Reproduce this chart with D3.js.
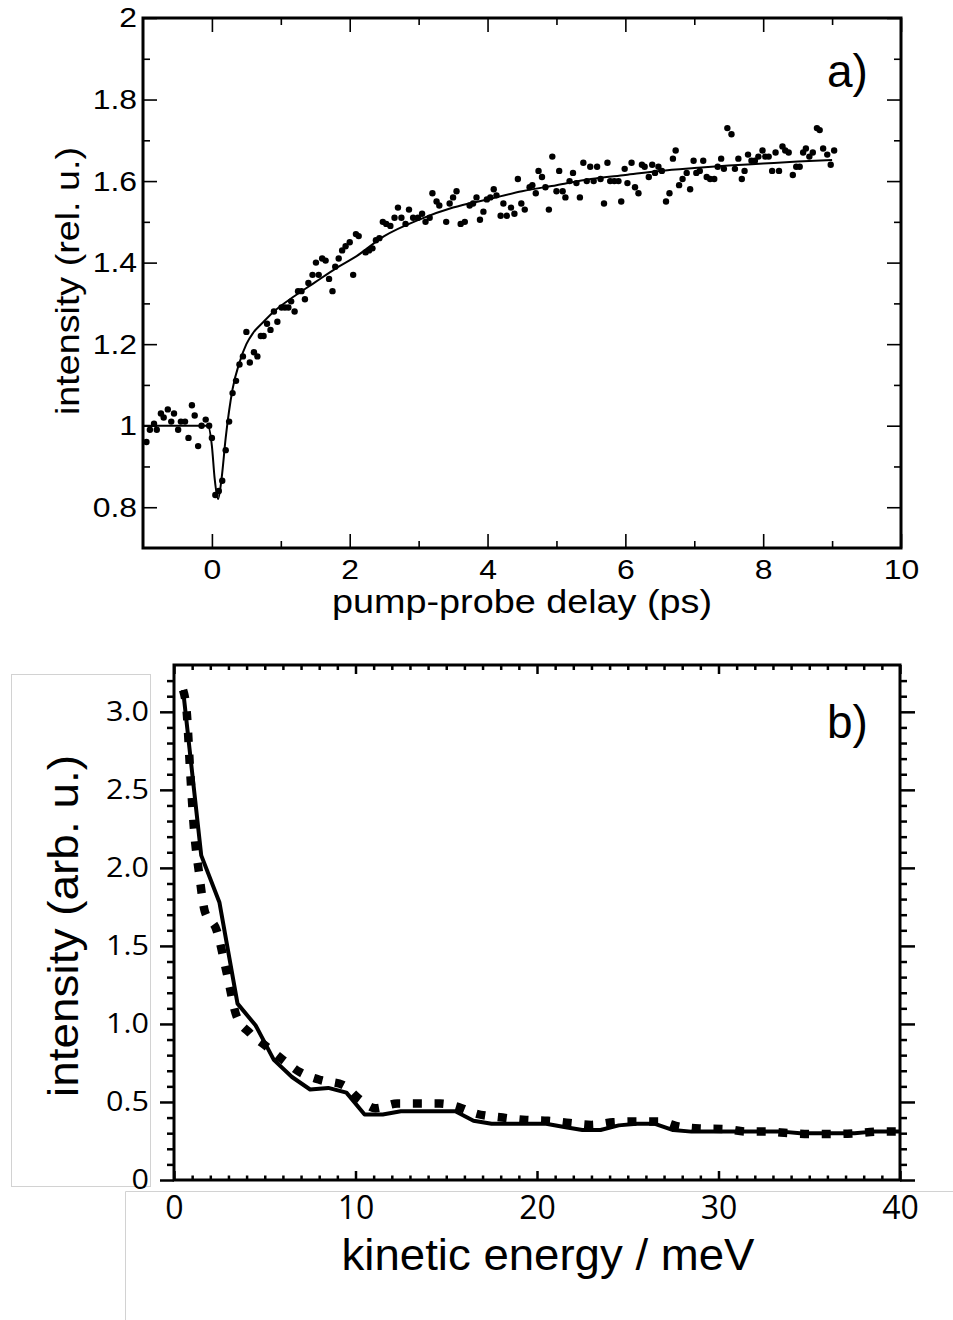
<!doctype html>
<html>
<head>
<meta charset="utf-8">
<script src="https://cdn.jsdelivr.net/npm/d3@7/dist/d3.min.js"></script>
<style>
  body { margin: 0; background: #fff; }
  svg { display: block; }
  .helv { font-family: "Liberation Sans", Arial, Helvetica, sans-serif; }
  .open { font-family: "Open Sans", "Noto Sans", sans-serif; }
</style>
</head>
<body>
<div id="chart"></div>
<script>
// ---- panel a) : pump-probe delay scan ----
var delay = [-0.95,-0.9,-0.84,-0.8,-0.74,-0.7,-0.64,-0.59,-0.55,-0.49,-0.45,-0.39,-0.34,-0.29,-0.25,-0.2,-0.15,-0.09,-0.04,0.0,
  0.05,0.1,0.15,0.2,0.25,0.3,0.35,0.4,0.45,0.5,0.55,0.61,0.66,0.71,0.75,0.8,0.85,0.9,0.95,1.01,
  1.06,1.11,1.15,1.2,1.25,1.3,1.35,1.4,1.46,1.51,1.55,1.6,1.65,1.7,1.75,1.79,1.84,1.89,1.94,2.0,
  2.05,2.09,2.13,2.23,2.28,2.33,2.38,2.43,2.48,2.53,2.59,2.65,2.7,2.75,2.81,2.86,2.92,2.99,3.05,3.1,
  3.16,3.2,3.26,3.3,3.4,3.45,3.5,3.55,3.61,3.67,3.74,3.79,3.84,3.89,3.94,3.99,4.04,4.09,4.13,4.19,
  4.23,4.28,4.34,4.39,4.44,4.49,4.54,4.61,4.65,4.7,4.74,4.79,4.84,4.89,4.94,5.0,5.04,5.09,5.13,5.19,
  5.24,5.29,5.34,5.39,5.44,5.49,5.54,5.59,5.64,5.69,5.74,5.78,5.84,5.9,5.94,5.99,6.03,6.09,6.14,6.19,
  6.24,6.28,6.34,6.39,6.43,6.48,6.53,6.59,6.64,6.69,6.73,6.78,6.83,6.89,6.94,6.99,7.03,7.08,7.13,7.18,
  7.23,7.29,7.34,7.39,7.43,7.48,7.54,7.59,7.64,7.69,7.73,7.78,7.83,7.88,7.93,7.99,8.03,8.08,8.13,8.18,
  8.23,8.28,8.32,8.37,8.43,8.48,8.53,8.58,8.62,8.67,8.72,8.78,8.82,8.87,8.93,8.98,9.03];
var intensityA = [0.96,0.99,1.005,0.99,1.03,1.02,1.04,1.01,1.03,0.99,1.01,1.01,0.97,1.05,1.025,0.95,1.0,1.015,1.0,0.97,
  0.83,0.84,0.865,0.94,1.01,1.08,1.11,1.15,1.17,1.23,1.155,1.18,1.17,1.22,1.22,1.25,1.235,1.28,1.255,1.29,
  1.29,1.29,1.305,1.28,1.33,1.33,1.31,1.35,1.37,1.40,1.37,1.41,1.405,1.36,1.33,1.39,1.41,1.43,1.44,1.45,
  1.37,1.47,1.465,1.425,1.43,1.435,1.455,1.46,1.50,1.495,1.49,1.51,1.535,1.51,1.495,1.53,1.51,1.51,1.52,1.50,
  1.51,1.57,1.55,1.54,1.50,1.545,1.56,1.575,1.495,1.50,1.54,1.545,1.56,1.505,1.525,1.555,1.56,1.58,1.565,1.515,
  1.545,1.515,1.535,1.52,1.605,1.545,1.53,1.585,1.59,1.57,1.625,1.61,1.585,1.53,1.66,1.575,1.625,1.575,1.56,1.60,
  1.62,1.595,1.56,1.645,1.60,1.635,1.60,1.635,1.605,1.545,1.645,1.60,1.60,1.60,1.55,1.63,1.595,1.645,1.585,1.57,
  1.64,1.635,1.61,1.64,1.62,1.635,1.625,1.55,1.57,1.655,1.675,1.59,1.605,1.62,1.58,1.65,1.62,1.625,1.65,1.61,
  1.605,1.605,1.635,1.655,1.63,1.73,1.715,1.63,1.655,1.605,1.625,1.665,1.65,1.65,1.66,1.675,1.66,1.66,1.625,1.67,
  1.625,1.685,1.675,1.67,1.615,1.635,1.635,1.67,1.68,1.66,1.67,1.73,1.725,1.68,1.665,1.64,1.675];

// fitted curve
var fitDelay = [-1,-0.06,0.0,0.04,0.09,0.14,0.2,0.3,0.4,0.5,0.6,0.75,0.9,1.2,1.5,1.8,2.1,2.5,3.0,3.5,4.0,4.5,5.0,5.5,6.0,6.5,7.0,7.5,8.0,8.5,9.0];
var fitValue = [1.0,1.0,0.95,0.87,0.82,0.87,0.97,1.09,1.155,1.20,1.228,1.255,1.28,1.318,1.352,1.386,1.416,1.465,1.505,1.535,1.555,1.575,1.59,1.605,1.615,1.625,1.632,1.638,1.643,1.648,1.652];

var aXMajor = [0, 2, 4, 6, 8, 10];
var aXMinor = [1, 3, 5, 7, 9];
var aYMajor = [0.8, 1, 1.2, 1.4, 1.6, 1.8, 2];
var aYMinor = [0.9, 1.1, 1.3, 1.5, 1.7, 1.9];

// ---- panel b) : kinetic energy distributions ----
var energy = [0.5,1.5,2.5,3.5,4.5,5.5,6.5,7.5,8.5,9.5,10.5,11.5,12.5,13.5,14.5,15.5,16.5,17.5,18.5,19.5,
  20.5,21.5,22.5,23.5,24.5,25.5,26.5,27.5,28.5,29.5,30.5,31.5,32.5,33.5,34.5,35.5,36.5,37.5,38.5,39.5,40];
var solidB = [3.14,2.08,1.78,1.13,0.99,0.77,0.66,0.58,0.59,0.56,0.42,0.42,0.44,0.44,0.44,0.44,0.38,0.36,0.36,0.36,
  0.36,0.34,0.32,0.32,0.35,0.36,0.36,0.32,0.31,0.31,0.31,0.31,0.31,0.31,0.30,0.30,0.30,0.30,0.31,0.31,0.31];
var dottedEnergy = [0.5,0.7,0.9,1.1,1.4,1.7,2.35,2.9,3.45,4.2,5.1,6.0,6.95,8.1,9.3,10.15,11.1,12.3,13.5,14.65,15.85,16.5,
  18.1,19.4,20.6,21.8,23.0,24.2,25.5,26.7,27.9,29.1,30.3,31.6,32.7,33.9,35.1,36.4,37.6,38.8,40];
var dottedB = [3.14,3.0,2.6,2.25,1.95,1.72,1.60,1.33,1.05,0.94,0.855,0.77,0.69,0.64,0.61,0.525,0.46,0.49,0.49,0.49,0.46,0.43,
  0.40,0.385,0.38,0.365,0.353,0.37,0.375,0.375,0.34,0.33,0.327,0.31,0.31,0.30,0.295,0.295,0.30,0.31,0.31];

var bXMajor = [0, 10, 20, 30, 40];
var bXMinor = d3.range(1, 40).filter(function(v){ return v % 10 !== 0; });
var bYMajor = [0, 0.5, 1.0, 1.5, 2.0, 2.5, 3.0];
var bYLabels = ["0", "0.5", "1.0", "1.5", "2.0", "2.5", "3.0"];
var bYMinor = d3.range(1, 33).map(function(v){ return v / 10; }).filter(function(v){ return Math.round(v * 10) % 5 !== 0; });

var W = 953, H = 1320;
var svg = d3.select("#chart").append("svg").attr("width", W).attr("height", H);

// light grey borders of pasted label boxes
var grey = svg.append("g").attr("stroke", "#d2d2d2").attr("stroke-width", 1).attr("fill", "none");
grey.append("rect").attr("x", 11.5).attr("y", 674.5).attr("width", 139).attr("height", 512);
grey.append("path").attr("d", "M125.5,1320 V1191.5 H953");

// strip domain, set tick width and label font; labels are a bit wide in the original
function styleAxis(g, size, width, cls, stretch) {
  g.select(".domain").remove();
  g.selectAll("line").attr("stroke-width", width);
  g.attr("font-size", null).attr("font-family", null);
  g.selectAll("text").attr("class", cls).attr("font-size", size)
    .each(function() {
      var w = this.getComputedTextLength();
      if (w > 0) d3.select(this).attr("textLength", w * stretch).attr("lengthAdjust", "spacingAndGlyphs");
    });
}

// ================= panel a =================
var a = { left: 143, right: 901, top: 18, bottom: 548 };
var xa = d3.scaleLinear().domain([-1, 10]).range([a.left, a.right]);
var ya = d3.scaleLinear().domain([0.7, 2.0]).range([a.bottom, a.top]);
var ga = svg.append("g");

// ticks (inward on all four sides)
function ticksA(axis, tr, vals, size, pad, withLabels) {
  var g = ga.append("g").attr("transform", tr)
    .call(axis.tickValues(vals).tickSize(size).tickPadding(pad)
      .tickFormat(withLabels ? d3.format("~g") : ""));
  styleAxis(g, 28, 1.6, "helv", 1.14);
  return g;
}
ticksA(d3.axisBottom(xa), "translate(0," + a.bottom + ")", aXMajor, -14, 11, true);
ticksA(d3.axisBottom(xa), "translate(0," + a.bottom + ")", aXMinor, -7, 0, false);
ticksA(d3.axisTop(xa), "translate(0," + a.top + ")", aXMajor, -14, 0, false);
ticksA(d3.axisTop(xa), "translate(0," + a.top + ")", aXMinor, -7, 0, false);
ticksA(d3.axisLeft(ya), "translate(" + a.left + ",0)", aYMajor, -14, 6, true);
ticksA(d3.axisLeft(ya), "translate(" + a.left + ",0)", aYMinor, -7, 0, false);
ticksA(d3.axisRight(ya), "translate(" + a.right + ",0)", aYMajor, -14, 0, false);
ticksA(d3.axisRight(ya), "translate(" + a.right + ",0)", aYMinor, -7, 0, false);

ga.append("rect").attr("x", a.left).attr("y", a.top)
  .attr("width", a.right - a.left).attr("height", a.bottom - a.top)
  .attr("fill", "none").attr("stroke", "#000").attr("stroke-width", 3);

var fitLine = d3.line().x(function(d){ return xa(d[0]); }).y(function(d){ return ya(d[1]); }).curve(d3.curveMonotoneX);
ga.append("path").datum(d3.zip(fitDelay, fitValue)).attr("d", fitLine)
  .attr("fill", "none").attr("stroke", "#000").attr("stroke-width", 2);

ga.selectAll("circle.pt").data(d3.zip(delay, intensityA)).enter().append("circle")
  .attr("class", "pt").attr("cx", function(d){ return xa(d[0]); }).attr("cy", function(d){ return ya(d[1]); })
  .attr("r", 3.2).attr("fill", "#000");

ga.append("text").attr("class", "helv").attr("x", (a.left + a.right) / 2).attr("y", 613)
  .attr("text-anchor", "middle").attr("font-size", 34).attr("textLength", 380).attr("lengthAdjust", "spacingAndGlyphs")
  .text("pump-probe delay (ps)");
ga.append("text").attr("class", "helv").attr("transform", "translate(79," + 281 + ") rotate(-90)")
  .attr("text-anchor", "middle").attr("font-size", 34).attr("textLength", 268).attr("lengthAdjust", "spacingAndGlyphs")
  .text("intensity (rel. u.)");
ga.append("text").attr("class", "helv").attr("x", 827).attr("y", 87).attr("font-size", 46).text("a)");

// ================= panel b =================
var b = { left: 174, right: 900, top: 665, bottom: 1180 };
var xb = d3.scaleLinear().domain([0, 40]).range([b.left, b.right]);
var yb = d3.scaleLinear().domain([0, 3.3]).range([b.bottom, b.top]);
var gb = svg.append("g");

function ticksB(axis, tr, vals, size, pad, fmt, fs, stretch) {
  var g = gb.append("g").attr("transform", tr)
    .call(axis.tickValues(vals).tickSize(size).tickPadding(pad).tickFormat(fmt));
  styleAxis(g, fs, 2.5, "open", stretch);
  return g;
}
ticksB(d3.axisLeft(yb), "translate(" + b.left + ",0)", bYMajor, 14, 11, function(d, i){ return bYLabels[i]; }, 27, 1.13);
ticksB(d3.axisLeft(yb), "translate(" + b.left + ",0)", bYMinor, 7, 0, "", 27, 1);
ticksB(d3.axisRight(yb), "translate(" + b.right + ",0)", bYMajor, 15, 0, "", 27, 1);
ticksB(d3.axisRight(yb), "translate(" + b.right + ",0)", bYMinor, 7, 0, "", 27, 1);
ticksB(d3.axisBottom(xb), "translate(0," + b.bottom + ")", bXMajor, -9, 16, d3.format("d"), 32, 1);
ticksB(d3.axisBottom(xb), "translate(0," + b.bottom + ")", bXMinor, -4.5, 0, "", 32, 1);
ticksB(d3.axisTop(xb), "translate(0," + b.top + ")", bXMajor, -9, 0, "", 32, 1);
ticksB(d3.axisTop(xb), "translate(0," + b.top + ")", bXMinor, -5, 0, "", 32, 1);

gb.append("rect").attr("x", b.left).attr("y", b.top)
  .attr("width", b.right - b.left).attr("height", b.bottom - b.top)
  .attr("fill", "none").attr("stroke", "#000").attr("stroke-width", 3);

var lineB = d3.line().x(function(d){ return xb(d[0]); }).y(function(d){ return yb(d[1]); });
gb.append("path").datum(d3.zip(dottedEnergy, dottedB)).attr("d", lineB.curve(d3.curveMonotoneX))
  .attr("fill", "none").attr("stroke", "#000").attr("stroke-width", 8.5).attr("stroke-dasharray", "9,12.7");
gb.append("path").datum(d3.zip(energy, solidB)).attr("d", lineB.curve(d3.curveLinear))
  .attr("fill", "none").attr("stroke", "#000").attr("stroke-width", 4).attr("stroke-linejoin", "round");

gb.append("text").attr("class", "helv").attr("x", 548).attr("y", 1270)
  .attr("text-anchor", "middle").attr("font-size", 45).attr("textLength", 413).attr("lengthAdjust", "spacingAndGlyphs")
  .text("kinetic energy / meV");
gb.append("text").attr("class", "helv").attr("transform", "translate(78," + 926 + ") rotate(-90)")
  .attr("text-anchor", "middle").attr("font-size", 42).attr("textLength", 342).attr("lengthAdjust", "spacingAndGlyphs")
  .text("intensity (arb. u.)");
gb.append("text").attr("class", "helv").attr("x", 827).attr("y", 738).attr("font-size", 46).text("b)");
</script>
</body>
</html>
